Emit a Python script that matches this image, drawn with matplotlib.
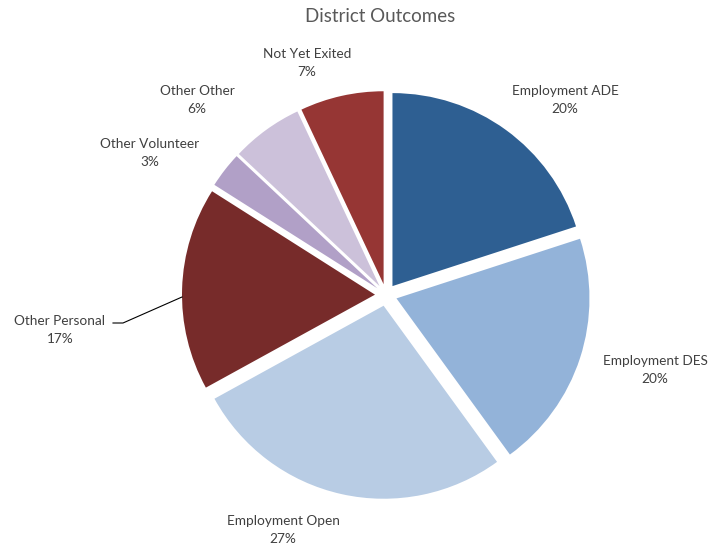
import numpy as np
import matplotlib
matplotlib.use('Agg')
import matplotlib.pyplot as plt

plt.rcParams['font.family'] = ['Lato', 'DejaVu Sans']

categories = ['Employment ADE', 'Employment DES', 'Employment Open', 'Other Personal',
              'Other Volunteer', 'Other Other', 'Not Yet Exited']
values = [20, 20, 27, 17, 3, 6, 7]
colors = ['#2E5F92', '#93B3D9', '#B8CCE4', '#772B2A', '#B1A0C7', '#CCC1DA', '#963634']

# label centres in pixel coords (x, y from top)
label_pos = [(565, 100), (655, 370), (283, 530), (60, 330), (150, 153), (197, 100), (307, 63)]

W, H = 715, 548
fig = plt.figure(figsize=(W / 100, H / 100), dpi=100)
ax = fig.add_axes([0, 0, 1, 1])
ax.set_xlim(0, W)
ax.set_ylim(0, H)
ax.set_aspect('equal')
ax.axis('off')

cx, cy = 386, H - 295
# explode in pixel units (pie does not scale explode by radius)
wedges, _ = ax.pie(values, colors=colors, startangle=90, counterclock=False,
                   center=(cx, cy), radius=193, explode=[11] * len(values),
                   wedgeprops=dict(linewidth=0))
ax.set_xlim(0, W)
ax.set_ylim(0, H)

for name, v, (lx, ly) in zip(categories, values, label_pos):
    ax.text(lx, H - ly, '%s\n%d%%' % (name, v), ha='center', va='center',
            fontsize=9.8, color='#404040', linespacing=1.6)

# leader line for Other Personal
ax.plot([113, 123, 182], [H - 323, H - 323, H - 297], color='black', lw=0.8)

ax.text(380, H - 16, 'District Outcomes', ha='center', va='center',
        fontsize=13.5, color='#595959')

fig.savefig('out.png', dpi=100)
